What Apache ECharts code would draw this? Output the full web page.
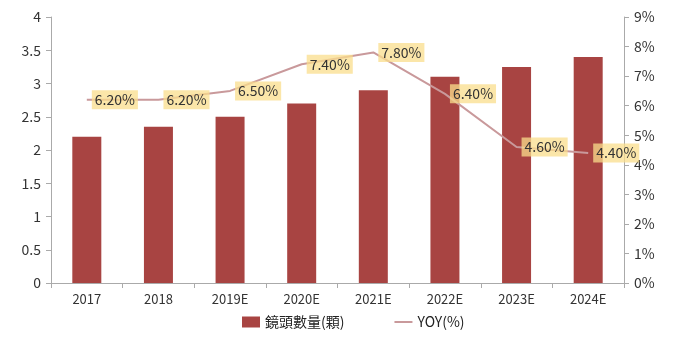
<!DOCTYPE html>
<html><head><meta charset="utf-8">
<script src="https://cdn.jsdelivr.net/npm/echarts@6/dist/echarts.min.js"></script>
<style>html,body{margin:0;padding:0;background:#fff}#c{width:680px;height:337px}</style>
</head><body><div id="c"></div>
<script>
const categories = ['2017','2018','2019E','2020E','2021E','2022E','2023E','2024E'];
const lensCount = [2.2, 2.35, 2.5, 2.7, 2.9, 3.1, 3.25, 3.4];
const yoy = [6.2, 6.2, 6.5, 7.4, 7.8, 6.4, 4.6, 4.4];
const barName = '鏡頭數量(顆)';
const lineName = 'YOY(%)';

const chart = echarts.init(document.getElementById('c'), null, {renderer:'canvas'});
const font = '"Noto Sans CJK TC","Open Sans",sans-serif';
chart.setOption({
  animation:false,
  textStyle:{fontFamily:font},
  grid:{left:51,right:56,top:17,bottom:54},
  legend:{bottom:3,left:237,itemGap:50,itemWidth:18,itemHeight:11,
    textStyle:{fontSize:14,color:'#222',fontFamily:font},
    data:[{name:barName,icon:'rect'},{name:lineName,icon:'path://M0,5 L18,5 L18,7 L0,7 Z'}]},
  xAxis:{type:'category',data:categories,
    axisLine:{lineStyle:{color:'#aaa'}},
    axisTick:{show:true,lineStyle:{color:'#aaa'}},
    axisLabel:{color:'#333',fontSize:13,margin:10}},
  yAxis:[
    {type:'value',min:0,max:4,interval:0.5,
      axisLine:{show:true,lineStyle:{color:'#aaa'}},
      axisTick:{show:true,lineStyle:{color:'#aaa'}},
      splitLine:{show:false},
      axisLabel:{color:'#333',fontSize:14,margin:10}},
    {type:'value',min:0,max:9,interval:1,
      axisLine:{show:true,lineStyle:{color:'#aaa'}},
      axisTick:{show:true,lineStyle:{color:'#aaa'}},
      splitLine:{show:false},
      axisLabel:{color:'#333',fontSize:14,margin:10,formatter:v=>v+'%'}}
  ],
  series:[
    {name:barName,type:'bar',data:lensCount,barWidth:29,
      itemStyle:{color:'#A84442'}},
    {name:lineName,type:'line',yAxisIndex:1,data:yoy,symbol:'circle',symbolSize:0,showSymbol:true,
      lineStyle:{color:'#C9999B',width:2},itemStyle:{color:'#C9999B'},
      label:{show:true,position:'right',distance:5,formatter:p=>p.value.toFixed(2)+'%',
        color:'#333',fontSize:14,backgroundColor:'rgba(250,222,140,0.75)',padding:[3,3,2,3]}}
  ]
});
</script></body></html>
